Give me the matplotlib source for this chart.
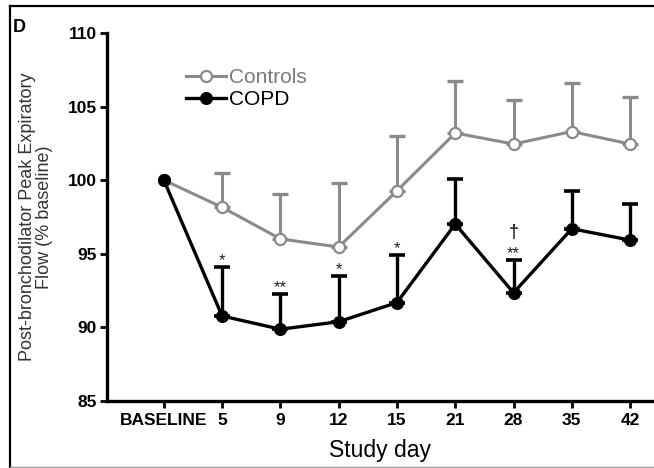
import matplotlib
matplotlib.use("Agg")
import matplotlib.pyplot as plt
from matplotlib.lines import Line2D

plt.rcParams['font.family'] = ['Liberation Sans', 'DejaVu Sans']

# 数据
days = ['BASELINE', '5', '9', '12', '15', '21', '28', '35', '42']
controls = [100.0, 98.15, 96.0, 95.45, 99.27, 103.2, 102.45, 103.3, 102.45]
controls_top = [100.0, 100.5, 99.05, 99.82, 103.0, 106.72, 105.45, 106.6, 105.65]
copd = [100.0, 90.76, 89.86, 90.37, 91.67, 97.01, 92.34, 96.69, 95.92]
copd_top = [100.0, 94.11, 92.28, 93.46, 94.88, 100.05, 94.57, 99.27, 98.37]
marks = ['', '*', '**', '*', '*', '', '**', '', '']
dagger = ['', '', '', '', '', '', '†', '', '']

gray = '#8a8a8a'
x = list(range(len(days)))
ctrl_err = [[0] * len(x), [t - v for t, v in zip(controls_top, controls)]]
copd_err = [[0] * len(x), [t - v for t, v in zip(copd_top, copd)]]

fig = plt.figure(figsize=(6.54, 4.68), dpi=100)
ax = fig.add_axes([106.7 / 654, 1 - 400.7 / 468, 1 - 106.7 / 654, (400.7 - 33) / 468])

# 误差线（只画上半）
ax.errorbar(x[1:], controls[1:], yerr=[e[1:] for e in ctrl_err], fmt='none',
            ecolor=gray, elinewidth=2.2, capsize=5.5, capthick=2.4, zorder=2)
ax.errorbar(x[1:], copd[1:], yerr=[e[1:] for e in copd_err], fmt='none',
            ecolor='black', elinewidth=2.4, capsize=5.5, capthick=2.6, zorder=3)

ax.plot(x, controls, color=gray, lw=2.2, marker='o', ms=8, mfc='white',
        mec=gray, mew=1.6, zorder=4, label='Controls')
ax.plot(x, copd, color='black', lw=2.4, marker='o', ms=8.4, mfc='black',
        mec='black', zorder=5, label='COPD')

# 显著性标记
for i in x:
    if marks[i]:
        ax.text(i, copd_top[i] + 0.12, marks[i], ha='center', va='baseline',
                fontsize=12, color='#222222')
    if dagger[i]:
        ax.text(i, copd_top[i] + 1.55, dagger[i], ha='center', va='baseline',
                fontsize=13, color='#222222', fontweight='bold')

ax.set_xlim(-0.98, 8.41)
ax.set_ylim(85, 110)
ax.set_yticks([85, 90, 95, 100, 105, 110])
ax.set_xticks(x)
ax.set_xticklabels(days)

for s in ['top', 'right']:
    ax.spines[s].set_visible(False)
for s in ['left', 'bottom']:
    ax.spines[s].set_linewidth(2.4)
ax.tick_params(axis='both', direction='out', length=5, width=2, labelsize=12.5, pad=2)
ax.tick_params(axis='x', pad=4)
for lab in ax.get_xticklabels() + ax.get_yticklabels():
    lab.set_fontweight('bold')

ax.set_xlabel('Study day', fontsize=16.5, labelpad=8)
ax.set_ylabel('Post-bronchodilator Peak Expiratory\nFlow (% baseline)', fontsize=13,
              color='#333333', linespacing=0.95)
ax.yaxis.set_label_coords(-0.099, 0.5)

leg = ax.legend(loc='upper left', bbox_to_anchor=(186 / 654, 1 - 68 / 468),
                bbox_transform=fig.transFigure, frameon=False, fontsize=15,
                handlelength=1.9, handletextpad=0.15, labelspacing=0.15,
                borderpad=0, borderaxespad=0)
leg.get_texts()[0].set_color('#7a7a7a')

fig.text(13 / 654, 1 - 32 / 468, 'D', fontsize=13, fontweight='bold')

# 外框
fig.add_artist(Line2D([10 / 654, 10 / 654], [0, 1 - 6 / 468], transform=fig.transFigure,
                      color='black', lw=1.6))
fig.add_artist(Line2D([10 / 654, 1], [1 - 6 / 468, 1 - 6 / 468], transform=fig.transFigure,
                      color='black', lw=1.6))
fig.add_artist(Line2D([10 / 654, 1], [1.5 / 468, 1.5 / 468], transform=fig.transFigure,
                      color='#999999', lw=1))

fig.savefig('out.png', dpi=100)
